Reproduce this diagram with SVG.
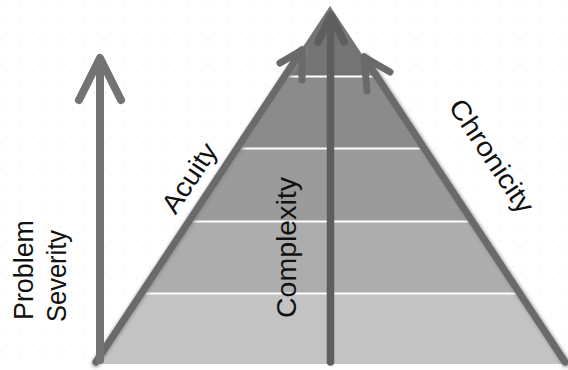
<svg xmlns="http://www.w3.org/2000/svg" width="568" height="370" viewBox="0 0 568 370">
  <defs>
    <pattern id="dots" width="13" height="13" patternUnits="userSpaceOnUse">
      <circle cx="6.5" cy="6.5" r="0.8" fill="#ececec"/>
    </pattern>
    <filter id="blur" x="-10%" y="-10%" width="120%" height="120%">
      <feGaussianBlur stdDeviation="1.5"/>
    </filter>
    <clipPath id="tri">
      <polygon points="330,6 93,364 567,364"/>
    </clipPath>
  </defs>
  <style>
    .lbl { font-family: "Liberation Sans", Arial, sans-serif; font-size: 27px; fill: #111111; }
    .edge { fill: none; stroke: #6a6a6a; stroke-width: 7; stroke-linecap: round; stroke-linejoin: round; }
    .shadow { fill: none; stroke: #888888; stroke-width: 9; stroke-linecap: round; stroke-linejoin: round; filter: url(#blur); opacity: 0.7; }
    .band-line { stroke: #ffffff; stroke-width: 2; }
    .arrow-left { fill: none; stroke: #737373; stroke-width: 8; stroke-linecap: round; stroke-linejoin: round; }
    .arrow-center { fill: none; stroke: #5e5e5e; stroke-width: 7.5; stroke-linecap: round; stroke-linejoin: round; }
  </style>

  <rect x="0" y="0" width="568" height="370" fill="#ffffff"/>
  <rect x="0" y="0" width="568" height="370" fill="url(#dots)"/>

  <g id="pyramid">
    <g clip-path="url(#tri)">
      <rect x="0" y="0" width="568" height="77" fill="#747474"/>
      <rect x="0" y="77" width="568" height="72" fill="#8b8b8b"/>
      <rect x="0" y="149" width="568" height="73" fill="#9b9b9b"/>
      <rect x="0" y="222" width="568" height="72" fill="#adadad"/>
      <rect x="0" y="294" width="568" height="70" fill="#c3c3c3"/>
      <line class="band-line" x1="0" y1="76.5" x2="568" y2="76.5"/>
      <line class="band-line" x1="0" y1="148.5" x2="568" y2="148.5"/>
      <line class="band-line" x1="0" y1="221.5" x2="568" y2="221.5"/>
      <line class="band-line" x1="0" y1="293.5" x2="568" y2="293.5"/>
    </g>
  </g>

  <g id="connectors">
    <g id="acuity-arrow">
      <polyline class="shadow" points="96,363 303,51"/>
      <polyline class="edge" points="96,362 302,50"/>
      <polyline class="edge" points="280,63 302,50 302,80"/>
    </g>
    <g id="chronicity-arrow">
      <polyline class="shadow" points="566,363 365,58"/>
      <polyline class="edge" points="565,362 364,57"/>
      <polyline class="edge" points="390,72 364,57 367,91"/>
    </g>
    <g id="severity-arrow">
      <line class="arrow-left" x1="100" y1="360" x2="100" y2="60"/>
      <polyline class="arrow-left" points="79,100 100,58 121,100"/>
    </g>
    <g id="complexity-arrow">
      <line class="arrow-center" x1="330.5" y1="362" x2="330.5" y2="16"/>
      <polyline class="arrow-center" points="318,42 331,15 344,42"/>
    </g>
  </g>

  <g id="label-severity">
    <text class="lbl" transform="translate(33,320) rotate(-90)" textLength="100" lengthAdjust="spacingAndGlyphs">Problem</text>
    <text class="lbl" transform="translate(66,322) rotate(-90)" textLength="92" lengthAdjust="spacingAndGlyphs">Severity</text>
  </g>
  <g id="label-complexity">
    <text class="lbl" transform="translate(296,318) rotate(-90)" textLength="141" lengthAdjust="spacingAndGlyphs">Complexity</text>
  </g>
  <g id="label-acuity">
    <text class="lbl" text-anchor="middle" transform="translate(197,183) rotate(-56.5)" textLength="78" lengthAdjust="spacingAndGlyphs">Acuity</text>
  </g>
  <g id="label-chronicity">
    <text class="lbl" text-anchor="middle" transform="translate(484,161) rotate(56.4)" textLength="131" lengthAdjust="spacingAndGlyphs">Chronicity</text>
  </g>
</svg>
